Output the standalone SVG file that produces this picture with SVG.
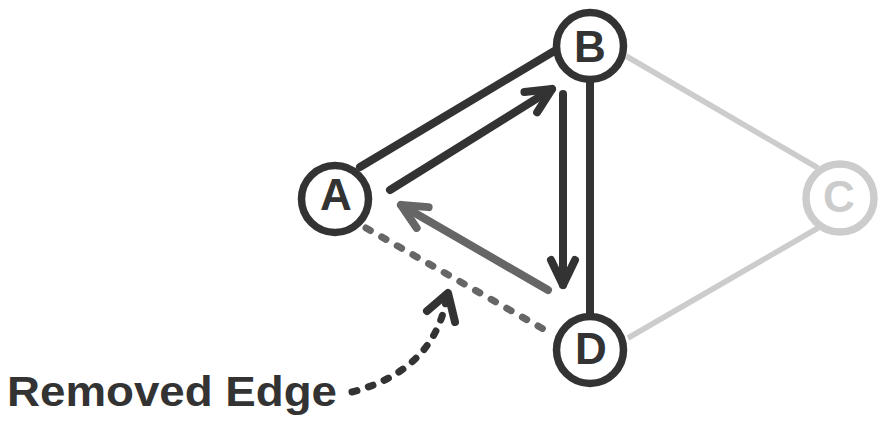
<svg xmlns="http://www.w3.org/2000/svg" width="886" height="429" viewBox="0 0 886 429">
  <style>
    .node circle { fill: #fff; stroke: #333; stroke-width: 7.5; }
    .node text { font-family: "Liberation Sans", Arial, sans-serif; font-weight: bold; font-size: 44px; fill: #333; text-anchor: middle; }
    #C circle { stroke: #ccc; }
    #C text { fill: #ccc; }
    .edge { stroke: #333; stroke-width: 8; fill: none; stroke-linecap: round; }
    .faded { stroke: #ccc; stroke-width: 5.5; fill: none; }
    .arrow { stroke: #333; stroke-width: 8; fill: none; stroke-linecap: round; }
    .arrow.gray { stroke: #666; }
    .removed { stroke: #666; stroke-width: 7; fill: none; stroke-linecap: round; stroke-dasharray: 5 13; }
    .callout { stroke: #333; stroke-width: 7; fill: none; stroke-linecap: round; stroke-dasharray: 5 12; }
    .label { font-family: "Liberation Sans", Arial, sans-serif; font-weight: bold; font-size: 43px; fill: #333; }
  </style>
  <defs>
    <marker id="head" markerUnits="userSpaceOnUse" viewBox="-40 -30 50 60" markerWidth="50" markerHeight="60" refX="0" refY="0" orient="auto">
      <path d="M-25,-12 L0,0 L-25,12" fill="none" stroke="#333" stroke-width="8" stroke-linecap="round" stroke-linejoin="round"/>
    </marker>
    <marker id="headGray" markerUnits="userSpaceOnUse" viewBox="-40 -30 50 60" markerWidth="50" markerHeight="60" refX="0" refY="0" orient="auto">
      <path d="M-25,-12 L0,0 L-25,12" fill="none" stroke="#666" stroke-width="8" stroke-linecap="round" stroke-linejoin="round"/>
    </marker>
  </defs>
  <g id="connectors">
    <line class="faded" x1="626" y1="56" x2="818" y2="168"/>
    <line class="faded" x1="818" y1="228" x2="628" y2="338"/>
    <line class="edge" x1="360" y1="167" x2="556" y2="50"/>
    <line class="edge" x1="590" y1="80" x2="590" y2="316"/>
    <line class="removed" x1="366" y1="228" x2="552" y2="334"/>
    <line class="arrow" x1="390" y1="190" x2="552" y2="89" marker-end="url(#head)"/>
    <line class="arrow" x1="563" y1="94" x2="563" y2="285" marker-end="url(#head)"/>
    <line class="arrow gray" x1="548" y1="290" x2="401" y2="205" marker-end="url(#headGray)"/>
    <path class="callout" d="M352,392 Q435,370 447,296"/>
    <path d="M427,311 L448,293 L455,322" fill="none" stroke="#333" stroke-width="8" stroke-linecap="round" stroke-linejoin="round"/>
  </g>
  <g id="A" class="node">
    <circle cx="335" cy="199" r="33.5"/>
    <text x="336" y="210">A</text>
  </g>
  <g id="B" class="node">
    <circle cx="590" cy="46" r="33.5"/>
    <text x="590" y="62">B</text>
  </g>
  <g id="D" class="node">
    <circle cx="590" cy="350" r="33.5"/>
    <text x="591" y="364">D</text>
  </g>
  <g id="C" class="node">
    <circle cx="840" cy="198" r="34"/>
    <text x="839" y="212">C</text>
  </g>
  <g id="label">
    <text class="label" x="7" y="406" textLength="330" lengthAdjust="spacingAndGlyphs">Removed Edge</text>
  </g>
</svg>
